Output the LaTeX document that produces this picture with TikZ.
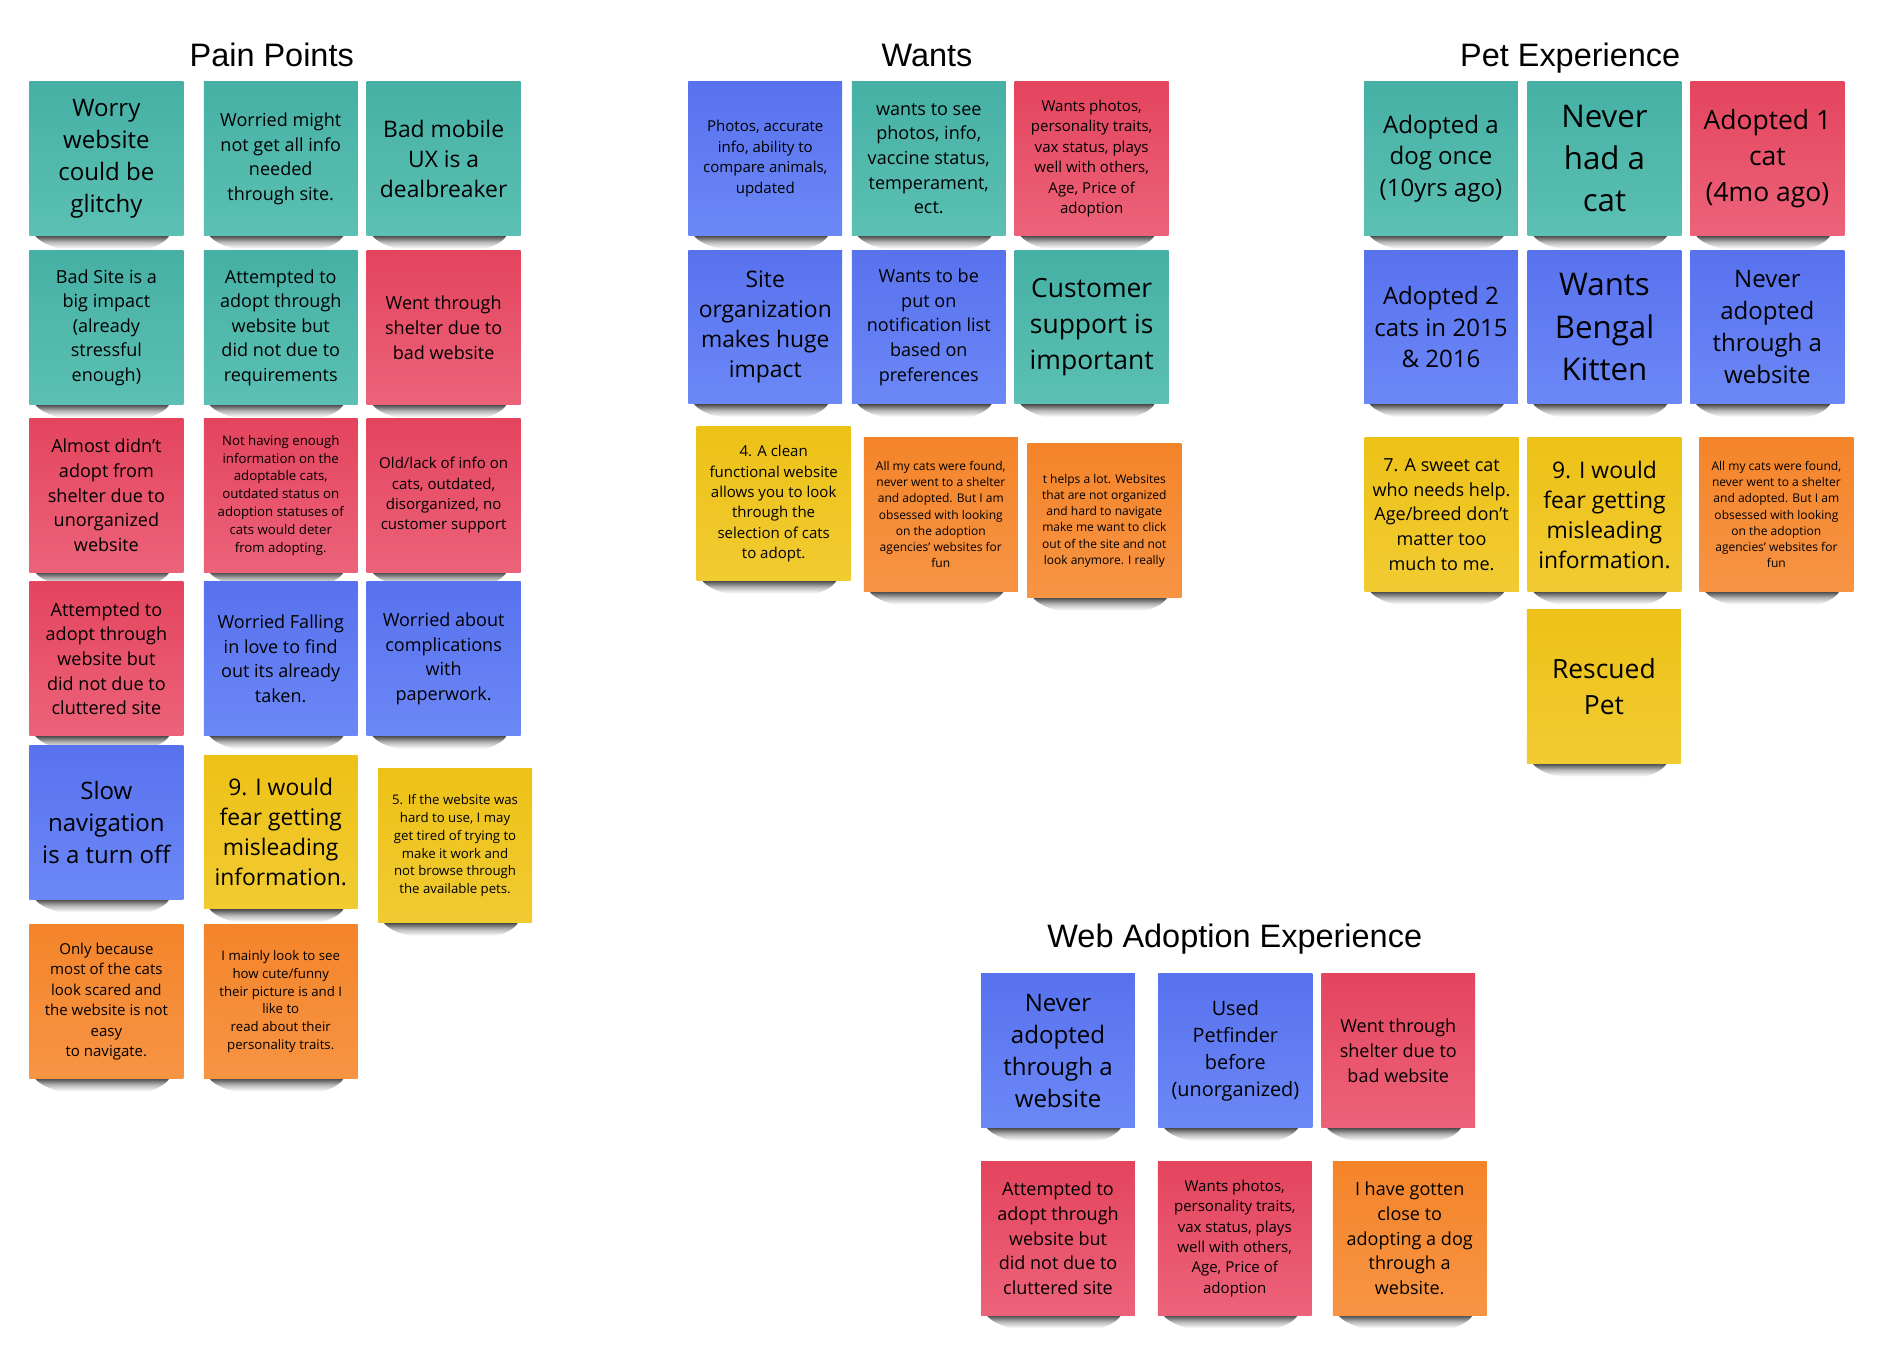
\documentclass[tikz,border=0pt]{standalone}
\usepackage{fontspec}
\setmainfont{Open Sans}
\newfontfamily\titlefont{Liberation Sans}
\usetikzlibrary{positioning}
\pgfdeclarelayer{bg}
\pgfsetlayers{bg,main}

\definecolor{tealA}{HTML}{46B0A4}
\definecolor{tealB}{HTML}{5CC0B4}
\definecolor{blueA}{HTML}{5872EE}
\definecolor{blueB}{HTML}{6B88F6}
\definecolor{redA}{HTML}{E4445E}
\definecolor{redB}{HTML}{EC6379}
\definecolor{yelA}{HTML}{EDC116}
\definecolor{yelB}{HTML}{F1CB32}
\definecolor{orgA}{HTML}{F4842A}
\definecolor{orgB}{HTML}{F79444}
\pgfdeclareverticalshading{notefade}{100bp}{color(0bp)=(white); color(25bp)=(white);
  color(50bp)=(white); color(63bp)=(black!28); color(75bp)=(black!70); color(100bp)=(black!70)}

\begin{document}
\begin{tikzpicture}[x=1pt, y=-1pt]
  % Styles
  \tikzset{
    note/.style={minimum width=128pt, minimum height=128pt, inner sep=1pt, align=center, text=black},
    tealnote/.style={note, top color=tealA, bottom color=tealB},
    bluenote/.style={note, top color=blueA, bottom color=blueB},
    rednote/.style={note, top color=redA, bottom color=redB},
    yelnote/.style={note, top color=yelA, bottom color=yelB},
    orgnote/.style={note, top color=orgA, bottom color=orgB},
    title/.style={font=\titlefont\fontsize{27}{32}\selectfont, anchor=base},
    sz10/.style={font=\fontsize{10}{13.5}\selectfont},
    sz11/.style={font=\fontsize{11}{14.8}\selectfont},
    sz12/.style={font=\fontsize{12.5}{17}\selectfont},
    sz15/.style={font=\fontsize{15}{20.5}\selectfont},
    sz16/.style={font=\fontsize{16.5}{22.3}\selectfont},
    sz19/.style={font=\fontsize{19}{25}\selectfont},
    sz20/.style={font=\fontsize{20}{26.5}\selectfont},
    sz22/.style={font=\fontsize{22}{30}\selectfont},
    sz26/.style={font=\fontsize{26}{35}\selectfont},
  }
  \useasboundingbox (0,0) rectangle (1567,1120);

  % Titles
  \node (tpain) [title] at (226,55) {Pain Points};
  \node (twants) [title] at (771,55) {Wants};
  \node (tpet) [title] at (1306,55) {Pet Experience};
  \node (tweb) [title] at (1027,788) {Web Adoption Experience};

  % Pain Points
  \node (p11) [tealnote, sz20] at (88.5,132) {Worry\\website\\could be\\glitchy};
  \node (p12) [tealnote, sz15] at (233.5,132) {Worried might\\not get all info\\needed\\through site.};
  \node (p13) [tealnote, sz19] at (369,132) {Bad mobile\\UX is a\\dealbreaker};
  \node (p21) [tealnote, sz15] at (88.5,272.5) {Bad Site is a\\big impact\\(already\\stressful\\enough)};
  \node (p22) [tealnote, sz15] at (233.5,272.5) {Attempted to\\adopt through\\website but\\did not due to\\requirements};
  \node (p23) [rednote, sz15] at (369,272.5) {Went through\\shelter due to\\bad website};
  \node (p31) [rednote, sz15] at (88.5,412) {Almost didn’t\\adopt from\\shelter due to\\unorganized\\website};
  \node (p32) [rednote, sz11] at (233.5,412) {Not having enough\\information on the\\adoptable cats,\\outdated status on\\adoption statuses of\\cats would deter\\from adopting.};
  \node (p33) [rednote, sz12] at (369,412) {Old/lack of info on\\cats, outdated,\\disorganized, no\\customer support};
  \node (p41) [rednote, sz15] at (88.5,548) {Attempted to\\adopt through\\website but\\did not due to\\cluttered site};
  \node (p42) [bluenote, sz15] at (233.5,548) {Worried Falling\\in love to find\\out its already\\taken.};
  \node (p43) [bluenote, sz15] at (369,548) {Worried about\\complications\\with\\paperwork.};
  \node (p51) [bluenote, sz20] at (88.5,684) {Slow\\navigation\\is a turn off};
  \node (p52) [yelnote, sz19] at (233.5,692) {9. I would\\fear getting\\misleading\\information.};
  \node (p53) [yelnote, sz11] at (378.5,703.5) {5. If the website was\\hard to use, I may\\get tired of trying to\\make it work and\\not browse through\\the available pets.};
  \node (p61) [orgnote, sz12] at (88.5,833) {Only because\\most of the cats\\look scared and\\the website is not\\easy\\to navigate.};
  \node (p62) [orgnote, sz11] at (233.5,833) {I mainly look to see\\how cute/funny\\their picture is and I\\like to\\read about their\\personality traits.};

  % Wants
  \node (w11) [bluenote, sz12] at (636.5,132) {Photos, accurate\\info, ability to\\compare animals,\\updated};
  \node (w12) [tealnote, sz15] at (772.5,132) {wants to see\\photos, info,\\vaccine status,\\temperament,\\ect.};
  \node (w13) [rednote, sz12] at (908,132) {Wants photos,\\personality traits,\\vax status, plays\\well with others,\\Age, Price of\\adoption};
  \node (w21) [bluenote, sz19] at (636.5,272) {Site\\organization\\makes huge\\impact};
  \node (w22) [bluenote, sz15] at (772.5,272) {Wants to be\\put on\\notification list\\based on\\preferences};
  \node (w23) [tealnote, sz22] at (908,272) {Customer\\support is\\important};
  \node (w31) [yelnote, sz12] at (643.5,419) {4. A clean\\functional website\\allows you to look\\through the\\selection of cats\\to adopt.};
  \node (w32) [orgnote, sz10] at (782.5,428) {All my cats were found,\\never went to a shelter\\and adopted. But I am\\obsessed with looking\\on the adoption\\agencies' websites for\\fun};
  \node (w33) [orgnote, sz10] at (918.5,433) {t helps a lot. Websites\\that are not organized\\and hard to navigate\\make me want to click\\out of the site and not\\look anymore. I really};

  % Pet Experience
  \node (e11) [tealnote, sz20] at (1198.5,132) {Adopted a\\dog once\\(10yrs ago)};
  \node (e12) [tealnote, sz26] at (1334.5,132) {Never\\had a\\cat};
  \node (e13) [rednote, sz22] at (1470,132) {Adopted 1\\cat\\(4mo ago)};
  \node (e21) [bluenote, sz20] at (1198.5,272) {Adopted 2\\cats in 2015\\\& 2016};
  \node (e22) [bluenote, sz26] at (1334.5,272) {Wants\\Bengal\\Kitten};
  \node (e23) [bluenote, sz20] at (1470,272) {Never\\adopted\\through a\\website};
  \node (e31) [yelnote, sz15] at (1199,428) {7. A sweet cat\\who needs help.\\Age/breed don't\\matter too\\much to me.};
  \node (e32) [yelnote, sz19] at (1334.5,428) {9. I would\\fear getting\\misleading\\information.};
  \node (e33) [orgnote, sz10] at (1477.5,428) {All my cats were found,\\never went to a shelter\\and adopted. But I am\\obsessed with looking\\on the adoption\\agencies' websites for\\fun};
  \node (e41) [yelnote, sz22] at (1334,571) {Rescued\\Pet};

  % Web Adoption Experience
  \node (a11) [bluenote, sz20] at (880,874) {Never\\adopted\\through a\\website};
  \node (a12) [bluenote, sz16] at (1027.5,874) {Used\\Petfinder\\before\\(unorganized)};
  \node (a13) [rednote, sz15] at (1163,874) {Went through\\shelter due to\\bad website};
  \node (a21) [rednote, sz15] at (880,1030) {Attempted to\\adopt through\\website but\\did not due to\\cluttered site};
  \node (a22) [rednote, sz12] at (1027,1030) {Wants photos,\\personality traits,\\vax status, plays\\well with others,\\Age, Price of\\adoption};
  \node (a23) [orgnote, sz15] at (1172.5,1030) {I have gotten\\close to\\adopting a dog\\through a\\website.};

  % Shadows under the notes
  \begin{pgfonlayer}{bg}
    \foreach \n in {p11,p12,p13,p21,p22,p23,p31,p32,p33,p41,p42,p43,p51,p52,p53,p61,p62,
                    w11,w12,w13,w21,w22,w23,w31,w32,w33,
                    e11,e12,e13,e21,e22,e23,e31,e32,e33,e41,
                    a11,a12,a13,a21,a22,a23}
      \shade[shading=notefade]
        ([xshift=5pt]\n.south west) .. controls ([xshift=20pt,yshift=-19pt]\n.south west)
        and ([xshift=-25pt,yshift=-21pt]\n.south east) .. ([xshift=-12pt]\n.south east) -- cycle;
  \end{pgfonlayer}
\end{tikzpicture}
\end{document}
